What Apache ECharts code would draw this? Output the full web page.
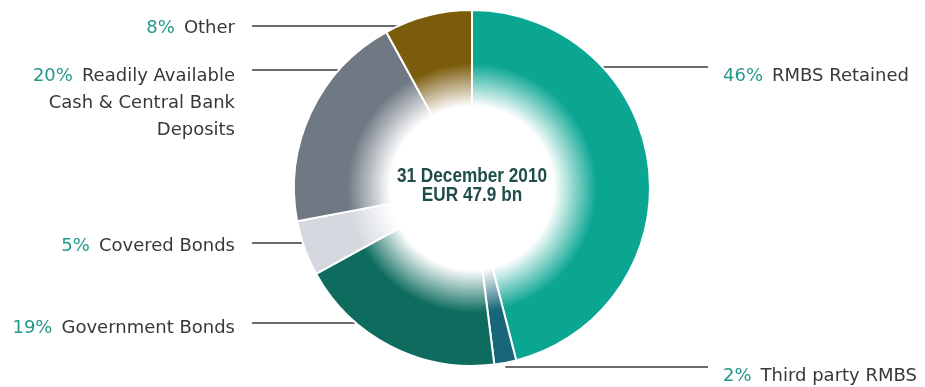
<!DOCTYPE html>
<html>
<head>
<meta charset="utf-8">
<script src="https://cdn.jsdelivr.net/npm/echarts@6/dist/echarts.min.js"></script>
<style>
  html, body { margin: 0; padding: 0; background: #ffffff; }
  #chart { width: 925px; height: 387px; }
</style>
</head>
<body>
<div id="chart"></div>
<script>
// Liquidity portfolio composition, 31 December 2010
const categories = [
  'RMBS Retained',
  'Third party RMBS',
  'Government Bonds',
  'Covered Bonds',
  'Readily Available\nCash & Central Bank\nDeposits',
  'Other'
];
const shares = [46, 2, 19, 5, 20, 8];
const sliceColors = ['#0ba692', '#17667a', '#0d6c5e', '#d5d9df', '#6f7883', '#7b5b0c'];
const centerLines = ['31 December 2010', 'EUR 47.9 bn'];

// Leader-line rows (pixel y of each callout line and of its first text line)
const labelLineY = [67, 367, 323, 243, 70, 26];
const labelTextY = [76, 376, 328, 246, 76, 28];

const CX = 472, CY = 188, R_OUT = 178, R_IN = 78;
const LEFT_TEXT_X = 235, RIGHT_TEXT_X = 723;
const LEFT_LINE_X = 252, RIGHT_LINE_X = 708;
const LINE_H = 27;

const total = shares.reduce((a, b) => a + b, 0);
const midAngles = [];
{
  let acc = 0;
  shares.forEach(v => {
    midAngles.push((acc + v / 2) / total * 360);
    acc += v;
  });
}

function ringFill(c) {
  return {
    type: 'radial', x: CX, y: CY, r: R_OUT, global: true,
    colorStops: [
      { offset: 0, color: '#ffffff' },
      { offset: 0.46, color: '#ffffff' },
      { offset: 0.70, color: c },
      { offset: 1, color: c }
    ]
  };
}

const chart = echarts.init(document.getElementById('chart'), null, { renderer: 'canvas' });

chart.setOption({
  animation: false,
  backgroundColor: '#ffffff',
  graphic: [{
    type: 'text',
    x: CX, y: CY - 2,
    scaleX: 0.86,
    z: 10,
    style: {
      text: centerLines.join('\n'),
      align: 'center',
      verticalAlign: 'middle',
      font: 'bold 20px "Liberation Sans", Arial, sans-serif',
      lineHeight: 19,
      fill: '#1f4d48'
    }
  }],
  series: [{
    type: 'pie',
    center: [CX, CY],
    radius: [R_IN, R_OUT],
    startAngle: 90,
    clockwise: true,
    avoidLabelOverlap: false,
    silent: true,
    itemStyle: { borderColor: '#ffffff', borderWidth: 2 },
    label: {
      show: true,
      position: 'outside',
      formatter: p => {
        const lines = p.name.split('\n');
        return '{p|' + p.value + '%}{t|' + lines[0] + '}' +
          lines.slice(1).map(l => '\n{t|' + l + '}').join('');
      },
      rich: {
        p: { color: '#24988a', fontSize: 18, fontFamily: 'DejaVu Sans', lineHeight: LINE_H, padding: [0, 9, 0, 0] },
        t: { color: '#383838', fontSize: 18, fontFamily: 'DejaVu Sans', lineHeight: LINE_H }
      }
    },
    labelLine: {
      show: true, length: 0, length2: 0,
      lineStyle: { color: '#3a3a3a', width: 1.3 }
    },
    labelLayout: params => {
      const i = params.dataIndex;
      const mid = midAngles[i];
      const left = mid > 180;
      const ly = labelLineY[i];
      const dy = ly - CY;
      let ex;
      if (Math.abs(dy) < R_OUT) {
        const dx = Math.sqrt(R_OUT * R_OUT - dy * dy);
        ex = left ? CX - dx : CX + dx;
      } else {
        ex = CX + R_OUT * Math.sin(mid * Math.PI / 180);
      }
      const endX = left ? LEFT_LINE_X : RIGHT_LINE_X;
      return {
        x: left ? LEFT_TEXT_X : RIGHT_TEXT_X,
        y: labelTextY[i] - LINE_H / 2,
        align: left ? 'right' : 'left',
        verticalAlign: 'top',
        labelLinePoints: [[ex, ly], [ex, ly], [endX, ly]]
      };
    },
    data: categories.map((name, i) => ({
      name: name,
      value: shares[i],
      itemStyle: { color: ringFill(sliceColors[i]) }
    }))
  }]
});
</script>
</body>
</html>
